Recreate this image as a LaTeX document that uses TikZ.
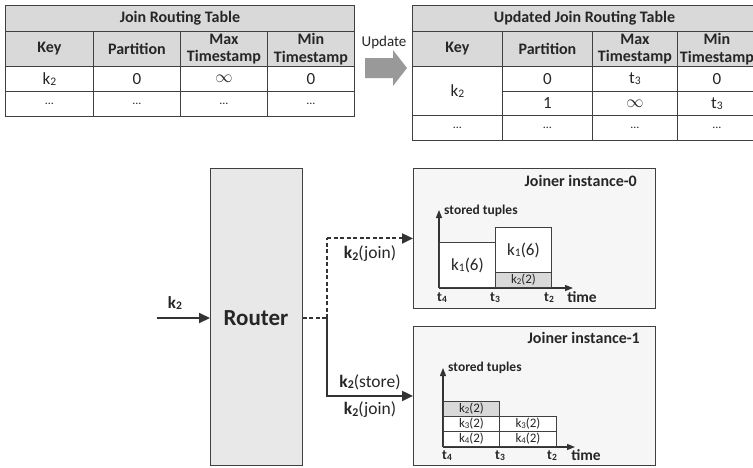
\documentclass[tikz,border=0pt]{standalone}
\usepackage{fontspec}
\usepackage{graphicx}
\setmainfont{Carlito}
\usetikzlibrary{arrows.meta}
\definecolor{linec}{HTML}{404040}
\definecolor{txt}{HTML}{262626}
\definecolor{hdrfill}{HTML}{D9D9D9}
\definecolor{routerfill}{HTML}{E8E8E8}
\definecolor{boxfill}{HTML}{F6F6F6}
\definecolor{grayfill}{HTML}{D9D9D9}
\definecolor{updgray}{HTML}{999999}
\definecolor{arrc}{HTML}{333333}
\newcommand\subd[1]{\raisebox{-0.08em}{\scalebox{0.68}{#1}}}
\newcommand\fs[1]{\fontsize{#1}{#1}\selectfont}
\tikzset{
  cell/.style={draw=linec, line width=0.9pt, anchor=north west, inner sep=0pt, align=center, text=txt},
  hdr/.style={cell, fill=hdrfill, font=\fontsize{16}{17.5}\selectfont\bfseries},
  dat/.style={cell, fill=white, font=\fs{17}},
  arr/.style={draw=arrc, line width=2pt, -{Triangle[length=11pt,width=10pt]}},
  dashline/.style={draw=arrc, line width=2pt, dash pattern=on 4pt off 2.5pt},
  jbox/.style={draw=linec, line width=0.9pt, fill=boxfill, anchor=north west, inner sep=0pt},
  bar/.style={draw=linec, line width=0.9pt, fill=white, anchor=south west, inner sep=0pt, text=txt},
  gbar/.style={bar, fill=grayfill},
  axisarr/.style={draw=arrc, line width=1.3pt, -{Triangle[length=8pt,width=6pt]}},
  tlab/.style={font=\fs{14}\bfseries, text=txt, inner sep=0pt},
  lab/.style={font=\fs{17.5}, text=txt, inner sep=0pt},
}
\begin{document}
\begin{tikzpicture}[x=1pt,y=-1pt]
\useasboundingbox (0,0) rectangle (753,467);
\fill[white] (0,0) rectangle (753,467);
% ---------- Table 1 ----------
\node[hdr, minimum width=349, minimum height=26] (t1title) at (5,5) {Join Routing Table};
\node[hdr, minimum width=88, minimum height=35] (t1h1) at (5,31) {Key};
\node[hdr, minimum width=87, minimum height=35] (t1h2) at (93,31) {Partition};
\node[hdr, minimum width=87, minimum height=35] (t1h3) at (180,31) {Max\\Timestamp};
\node[hdr, minimum width=87, minimum height=35] (t1h4) at (267,31) {Min\\Timestamp};
\node[dat, minimum width=88, minimum height=25] (t1a1) at (5,66) {k\subd{2}};
\node[dat, minimum width=87, minimum height=25] (t1a2) at (93,66) {0};
\node[dat, minimum width=87, minimum height=25] (t1a3) at (180,66) {$\infty$};
\node[dat, minimum width=87, minimum height=25] (t1a4) at (267,66) {0};
\node[dat, minimum width=88, minimum height=25] (t1b1) at (5,91) {\fs{12}...};
\node[dat, minimum width=87, minimum height=25] (t1b2) at (93,91) {\fs{12}...};
\node[dat, minimum width=87, minimum height=25] (t1b3) at (180,91) {\fs{12}...};
\node[dat, minimum width=87, minimum height=25] (t1b4) at (267,91) {\fs{12}...};
% ---------- Update arrow ----------
\node[font=\fs{15}, text=txt, inner sep=0pt] (upd) at (384,42) {Update};
\fill[updgray] (365,58) -- (393,58) -- (393,50) -- (407,68) -- (393,86) -- (393,78) -- (365,78) -- cycle;
% ---------- Table 2 ----------
\node[hdr, minimum width=344, minimum height=26] (t2title) at (412,5) {Updated Join Routing Table};
\node[hdr, minimum width=90, minimum height=35] (t2h1) at (412,31) {Key};
\node[hdr, minimum width=90, minimum height=35] (t2h2) at (502,31) {Partition};
\node[hdr, minimum width=85, minimum height=35] (t2h3) at (592,31) {Max\\Timestamp};
\node[hdr, minimum width=79, minimum height=35] (t2h4) at (677,31) {Min\\Timestamp};
\node[dat, minimum width=90, minimum height=49] (t2k) at (412,66) {k\subd{2}};
\node[dat, minimum width=90, minimum height=25] (t2a2) at (502,66) {0};
\node[dat, minimum width=85, minimum height=25] (t2a3) at (592,66) {t\subd{3}};
\node[dat, minimum width=79, minimum height=25] (t2a4) at (677,66) {0};
\node[dat, minimum width=90, minimum height=24] (t2b2) at (502,91) {1};
\node[dat, minimum width=85, minimum height=24] (t2b3) at (592,91) {$\infty$};
\node[dat, minimum width=79, minimum height=24] (t2b4) at (677,91) {t\subd{3}};
\node[dat, minimum width=90, minimum height=25] (t2c1) at (412,115) {\fs{12}...};
\node[dat, minimum width=90, minimum height=25] (t2c2) at (502,115) {\fs{12}...};
\node[dat, minimum width=85, minimum height=25] (t2c3) at (592,115) {\fs{12}...};
\node[dat, minimum width=79, minimum height=25] (t2c4) at (677,115) {\fs{12}...};
% ---------- Router ----------
\node[draw=linec, line width=0.9pt, fill=routerfill, anchor=north west, minimum width=92, minimum height=297, inner sep=0pt] (router) at (210,168) {};
\node[font=\fs{23}\bfseries, text=txt, inner sep=0pt] (routertxt) at (256,318) {Router};
% ---------- Joiner boxes ----------
\node[jbox, minimum width=242, minimum height=140] (j0) at (413,168) {};
\node[jbox, minimum width=242, minimum height=139] (j1) at (413,326) {};
\node[font=\fs{16}\bfseries, text=txt, anchor=east, inner sep=0pt] (j0t) at (637,181) {Joiner instance-0};
\node[font=\fs{16}\bfseries, text=txt, anchor=east, inner sep=0pt] (j1t) at (640,338) {Joiner instance-1};
% ---------- connectors ----------
\coordinate (in) at (157,318);
\coordinate (jn) at (327,318);
\draw[arr] (in) -- (in -| router.west);
\node[font=\fs{17}\bfseries, text=txt, inner sep=0pt] (kin) at (175,303) {k\subd{2}};
\draw[dashline] (in -| router.east) -- (jn);
\draw[dashline] (jn) -- (jn |- j0.west);
\draw[arr, dash pattern=on 4pt off 2.5pt] (jn |- j0.west) -- (j0.west);
\draw[arr] (jn) |- (j1.west);
\node[lab] (l1) at (370,254) {\textbf{k\subd{2}}(join)};
\node[lab] (l2) at (370,382) {\textbf{k\subd{2}}(store)};
\node[lab] (l3) at (370,410) {\textbf{k\subd{2}}(join)};
% ---------- chart instance-0 ----------
\coordinate (o0) at (439,288);
\draw[axisarr] (o0) -- (439,210);
\draw[axisarr] (o0) -- (573,288);
\node[font=\fs{13.5}\bfseries, text=txt, anchor=west, inner sep=0pt] (st0) at (444,211) {stored tuples};
\node[bar, minimum width=56, minimum height=45, font=\fs{17}] (a1) at (439,288) {k\subd{1}(6)};
\node[gbar, minimum width=56, minimum height=15, font=\fs{13}] (a2) at (495,288) {k\subd{2}(2)};
\node[bar, minimum width=56, minimum height=45, font=\fs{17}] (a3) at (495,273) {k\subd{1}(6)};
\node[tlab] (x04) at (442,298) {t\subd{4}};
\node[tlab] (x03) at (495,298) {t\subd{3}};
\node[tlab] (x02) at (549,298) {t\subd{2}};
\node[tlab, font=\fs{15.5}\bfseries] (x0t) at (582,297) {time};
% ---------- chart instance-1 ----------
\coordinate (o1) at (443,447);
\draw[axisarr] (o1) -- (443,368);
\draw[axisarr] (o1) -- (575,447);
\node[font=\fs{13.5}\bfseries, text=txt, anchor=west, inner sep=0pt] (st1) at (448,368) {stored tuples};
\node[bar, minimum width=56, minimum height=15, font=\fs{13}] (b1) at (443,447) {k\subd{4}(2)};
\node[bar, minimum width=56, minimum height=15, font=\fs{13}] (b2) at (443,432) {k\subd{3}(2)};
\node[gbar, minimum width=56, minimum height=15, font=\fs{13}] (b3) at (443,417) {k\subd{2}(2)};
\node[bar, minimum width=57, minimum height=15, font=\fs{13}] (b4) at (499,447) {k\subd{4}(2)};
\node[bar, minimum width=57, minimum height=15, font=\fs{13}] (b5) at (499,432) {k\subd{3}(2)};
\node[tlab] (x14) at (447,456) {t\subd{4}};
\node[tlab] (x13) at (500,456) {t\subd{3}};
\node[tlab] (x12) at (552,456) {t\subd{2}};
\node[tlab, font=\fs{15.5}\bfseries] (x1t) at (586,455) {time};
\end{tikzpicture}
\end{document}
